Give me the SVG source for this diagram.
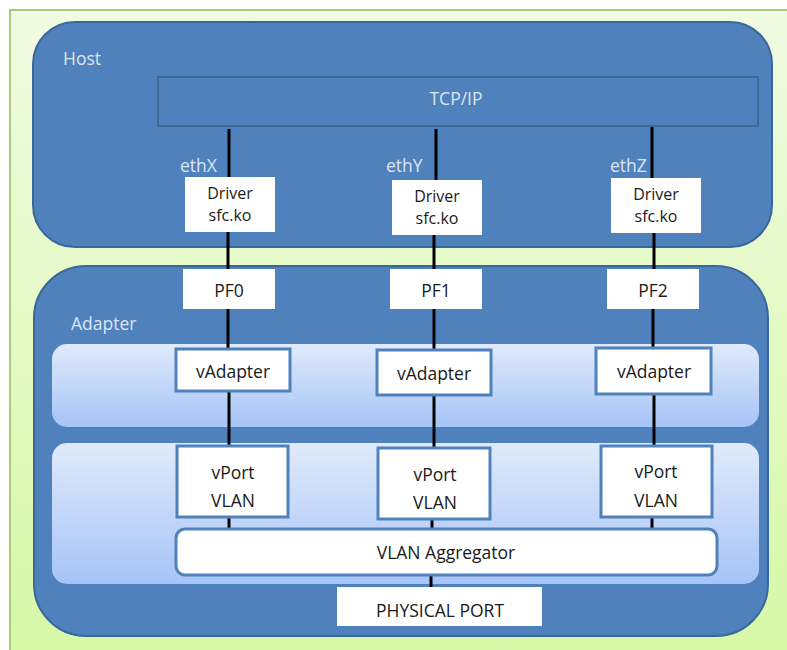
<svg xmlns="http://www.w3.org/2000/svg" width="787" height="650" viewBox="0 0 787 650">
<defs>
<linearGradient id="bg" x1="0" y1="0" x2="0" y2="1">
<stop offset="0" stop-color="#f0fbe2"/>
<stop offset="1" stop-color="#d6f8a6"/>
</linearGradient>
<linearGradient id="band" x1="0" y1="0" x2="0" y2="1">
<stop offset="0" stop-color="#e0eafb"/>
<stop offset="1" stop-color="#a6c4f7"/>
</linearGradient>
<style>
.big{fill:#4f81bd;stroke:#3a669a;stroke-width:2}
.band{fill:url(#band);stroke:none}
.box{fill:#ffffff}
.bbox{fill:#ffffff;stroke:#4f81bd;stroke-width:3}
.lbl{font-family:"Open Sans","Noto Sans",sans-serif;font-size:17.5px;fill:#dce6f2}
.t{font-family:"Open Sans","Noto Sans",sans-serif;font-size:17.5px;fill:#1a1a1a;text-anchor:middle}
.d{font-size:16px}
.c line{stroke:#000;stroke-width:3}
</style>
</defs>
<rect x="10" y="10" width="790" height="650" fill="url(#bg)" stroke="#a8cc78" stroke-width="2"/>

<g id="host">
<rect class="big" x="33" y="22" width="739" height="225" rx="42"/>
<text class="lbl" x="63" y="65">Host</text>
</g>
<g id="adapter">
<rect class="big" x="34" y="266" width="734" height="370" rx="52"/>
<text class="lbl" x="71" y="330">Adapter</text>
</g>
<g id="vadapter-band"><rect class="band" x="52" y="344" width="707" height="83" rx="15"/></g>
<g id="vport-band"><rect class="band" x="52" y="443" width="707" height="141" rx="15"/></g>

<g id="tcpip">
<rect x="158" y="77" width="600" height="49" fill="#4f81bd" stroke="#3d6796" stroke-width="2"/>
<text class="lbl" x="456" y="105" text-anchor="middle">TCP/IP</text>
</g>

<g class="c" id="connectors">
<line x1="229" y1="129" x2="229" y2="180"/>
<line x1="436" y1="129" x2="436" y2="182"/>
<line x1="652" y1="127" x2="652" y2="180"/>
<line x1="228" y1="232" x2="228" y2="270"/>
<line x1="434" y1="235" x2="434" y2="270"/>
<line x1="654" y1="233" x2="654" y2="270"/>
<line x1="228" y1="309" x2="228" y2="349"/>
<line x1="434" y1="309" x2="434" y2="349"/>
<line x1="653" y1="309" x2="653" y2="348"/>
<line x1="229" y1="392" x2="229" y2="446"/>
<line x1="434" y1="396" x2="434" y2="448"/>
<line x1="654" y1="394" x2="654" y2="446"/>
<line x1="229" y1="517" x2="229" y2="528"/>
<line x1="432" y1="519" x2="432" y2="528"/>
<line x1="652" y1="517" x2="652" y2="528"/>
<line x1="431" y1="575" x2="431" y2="588"/>
</g>

<g id="ethX"><text class="lbl" x="180" y="172">ethX</text></g>
<g id="ethY"><text class="lbl" x="386" y="172">ethY</text></g>
<g id="ethZ"><text class="lbl" x="610" y="172">ethZ</text></g>

<g id="driverX"><rect class="box" x="185" y="177" width="90" height="55"/>
<text class="t d" x="230" y="199">Driver</text><text class="t d" x="230" y="221">sfc.ko</text></g>
<g id="driverY"><rect class="box" x="392" y="180" width="90" height="55"/>
<text class="t d" x="437" y="202">Driver</text><text class="t d" x="437" y="224">sfc.ko</text></g>
<g id="driverZ"><rect class="box" x="611" y="178" width="90" height="55"/>
<text class="t d" x="656" y="200">Driver</text><text class="t d" x="656" y="222">sfc.ko</text></g>

<g id="pf0"><rect class="box" x="183" y="269" width="92" height="40"/><text class="t" x="229" y="297">PF0</text></g>
<g id="pf1"><rect class="box" x="390" y="269" width="92" height="40"/><text class="t" x="436" y="297">PF1</text></g>
<g id="pf2"><rect class="box" x="607" y="269" width="92" height="40"/><text class="t" x="653" y="297">PF2</text></g>

<g id="vadapterX"><rect class="bbox" x="176" y="349" width="114" height="42"/><text class="t" x="233" y="378">vAdapter</text></g>
<g id="vadapterY"><rect class="bbox" x="377" y="350" width="114" height="45"/><text class="t" x="434" y="380">vAdapter</text></g>
<g id="vadapterZ"><rect class="bbox" x="596" y="348" width="115" height="46"/><text class="t" x="654" y="378">vAdapter</text></g>

<g id="vportX"><rect class="bbox" x="177" y="446" width="111" height="71"/>
<text class="t" x="233" y="479">vPort</text><text class="t" x="233" y="507">VLAN</text></g>
<g id="vportY"><rect class="bbox" x="378" y="448" width="112" height="71"/>
<text class="t" x="435" y="481">vPort</text><text class="t" x="435" y="509">VLAN</text></g>
<g id="vportZ"><rect class="bbox" x="601" y="446" width="111" height="71"/>
<text class="t" x="656" y="478">vPort</text><text class="t" x="656" y="507">VLAN</text></g>

<g id="aggregator"><rect class="bbox" x="176" y="529" width="541" height="46" rx="9"/>
<text class="t" x="446" y="559">VLAN Aggregator</text></g>

<g id="physical"><rect class="box" x="337" y="587" width="205" height="39"/>
<text class="t" x="440" y="617">PHYSICAL PORT</text></g>
</svg>
